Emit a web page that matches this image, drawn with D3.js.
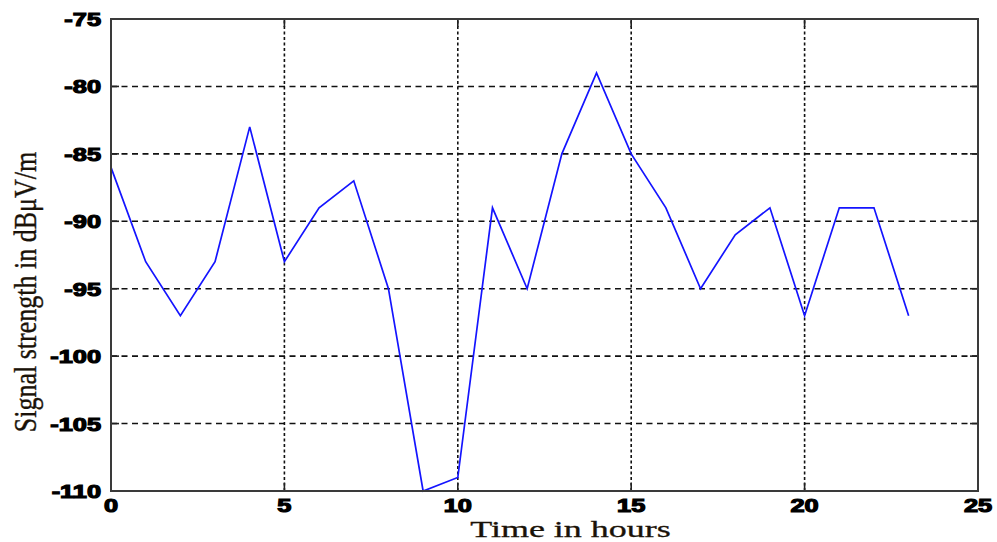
<!DOCTYPE html>
<html>
<head>
<meta charset="utf-8">
<script src="https://cdn.jsdelivr.net/npm/d3@7"></script>
<style>
  html, body { margin: 0; padding: 0; background: #fff; }
  svg { display: block; }
</style>
</head>
<body>
<svg id="chart" width="997" height="542"></svg>
<script>
// Hourly field-strength measurements
const hours = [0, 1, 2, 3, 4, 5, 6, 7, 8, 9, 10, 11, 12, 13, 14, 15, 16, 17, 18, 19, 20, 21, 22, 23];
const signal = [-86, -93, -97, -93, -83, -93, -89, -87, -95, -110, -109, -89, -95, -85, -79, -85, -89, -95, -91, -89, -97, -89, -89, -97];

const xTicks = [0, 5, 10, 15, 20, 25];
const yTicks = [-75, -80, -85, -90, -95, -100, -105, -110];

const xLabel = "Time in hours";
const yLabel = "Signal strength in dBμV/m";

const W = 997, H = 542;
const margin = { left: 111, right: 19, top: 19, bottom: 51 };

const svg = d3.select("#chart");

const x = d3.scaleLinear().domain([0, 25]).range([margin.left, W - margin.right]);
const y = d3.scaleLinear().domain([-110, -75]).range([H - margin.bottom, margin.top]);

const x0 = x.range()[0], x1 = x.range()[1];
const y0 = y.range()[0], y1 = y.range()[1];

// grid: horizontal dashed lines, vertical dotted lines
const grid = svg.append("g").attr("stroke", "#111").attr("stroke-width", 1.6).attr("fill", "none");
grid.selectAll("line.h").data(yTicks.filter(v => v > -110 && v < -75)).join("line")
  .attr("class", "h")
  .attr("x1", x0).attr("x2", x1)
  .attr("y1", d => y(d)).attr("y2", d => y(d))
  .attr("stroke-dasharray", "6,4.5");
grid.selectAll("line.v").data(xTicks.filter(v => v > 0 && v < 25)).join("line")
  .attr("class", "v")
  .attr("x1", d => x(d)).attr("x2", d => x(d))
  .attr("y1", y0).attr("y2", y1)
  .attr("stroke-dasharray", "3,2.5");

// inward tick marks on all four sides
const tickLen = 8;
const ticks = svg.append("g").attr("stroke", "#222").attr("stroke-width", 1.6);
xTicks.forEach(v => {
  ticks.append("line").attr("x1", x(v)).attr("x2", x(v)).attr("y1", y0).attr("y2", y0 - tickLen);
  ticks.append("line").attr("x1", x(v)).attr("x2", x(v)).attr("y1", y1).attr("y2", y1 + tickLen);
});
yTicks.forEach(v => {
  ticks.append("line").attr("x1", x0).attr("x2", x0 + tickLen).attr("y1", y(v)).attr("y2", y(v));
  ticks.append("line").attr("x1", x1).attr("x2", x1 - tickLen).attr("y1", y(v)).attr("y2", y(v));
});

// data line
const line = d3.line().x((d, i) => x(hours[i])).y(d => y(d));
svg.append("path")
  .datum(signal)
  .attr("fill", "none")
  .attr("stroke", "#1414ff")
  .attr("stroke-width", 1.7)
  .attr("stroke-linejoin", "miter")
  .attr("d", line);

// frame
svg.append("rect")
  .attr("x", x0).attr("y", y1)
  .attr("width", x1 - x0).attr("height", y0 - y1)
  .attr("fill", "none")
  .attr("stroke", "#3a3a3a")
  .attr("stroke-width", 2);

// tick labels (heavy, horizontally stretched)
const tickFont = "'Liberation Sans', Arial, sans-serif";
const stretch = 1.45;
const xl = svg.append("g");
xTicks.forEach(v => {
  xl.append("text")
    .attr("transform", `translate(${x(v)},${y0 + 21}) scale(${stretch},1)`)
    .attr("text-anchor", "middle")
    .attr("font-family", tickFont)
    .attr("font-weight", "bold")
    .attr("font-size", 17.5)
    .attr("fill", "#000").attr("stroke", "#000").attr("stroke-width", 1.1)
    .text(v);
});
const yl = svg.append("g");
yTicks.forEach(v => {
  yl.append("text")
    .attr("transform", `translate(${x0 - 10},${y(v) + 7}) scale(${stretch},1)`)
    .attr("text-anchor", "end")
    .attr("font-family", tickFont)
    .attr("font-weight", "bold")
    .attr("font-size", 17.5)
    .attr("fill", "#000").attr("stroke", "#000").attr("stroke-width", 1.1)
    .text(v);
});

// axis titles
svg.append("text")
  .attr("transform", `translate(${(x0 + x1) / 2 + 26},${537}) scale(1.5,1)`)
  .attr("text-anchor", "middle")
  .attr("font-family", "'Liberation Serif', 'Times New Roman', serif")
  .attr("font-size", 24)
  .attr("fill", "#1a1208")
  .attr("stroke", "#1a1208").attr("stroke-width", 0.3)
  .text(xLabel);

svg.append("text")
  .attr("transform", `translate(36,${(y0 + y1) / 2 + 37}) scale(1.25,1) rotate(-90)`)
  .attr("text-anchor", "middle")
  .attr("font-family", "'Liberation Serif', 'Times New Roman', serif")
  .attr("font-size", 26)
  .attr("fill", "#1a1208")
  .attr("stroke", "#1a1208").attr("stroke-width", 0.3)
  .text(yLabel);
</script>
</body>
</html>
